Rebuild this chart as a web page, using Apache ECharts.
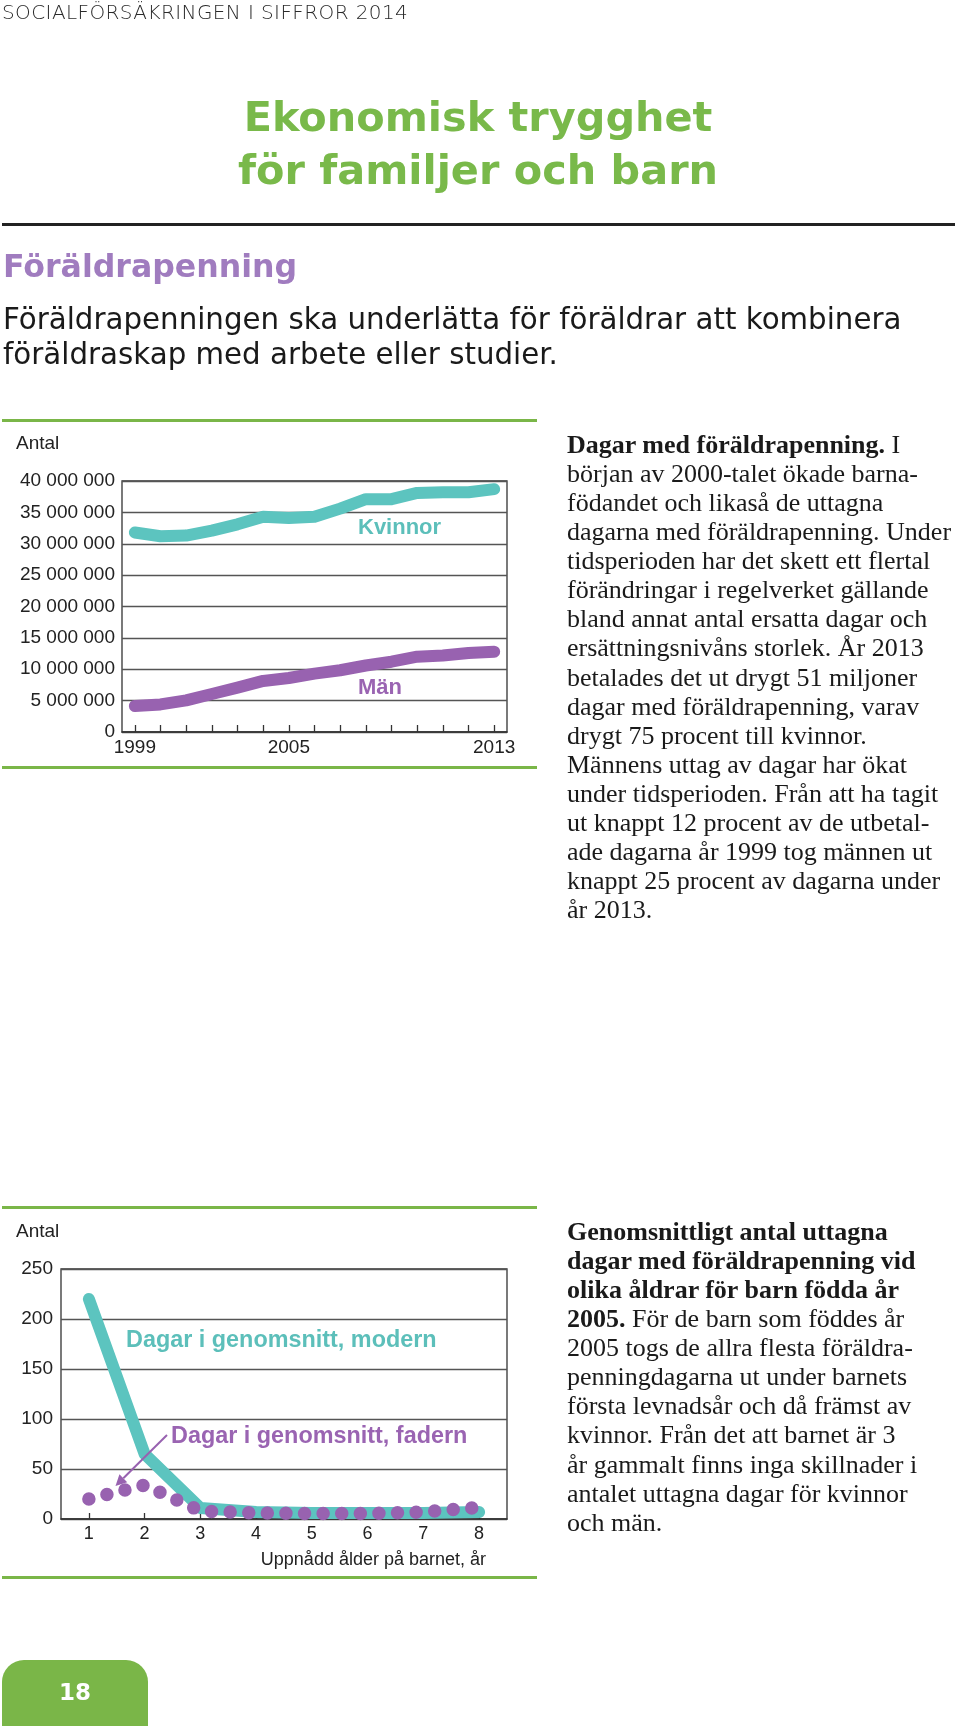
<!DOCTYPE html>
<html>
<head>
<meta charset="utf-8">
<script src="https://cdn.jsdelivr.net/npm/echarts@6/dist/echarts.min.js"></script>
<style>
  html, body { margin:0; padding:0; background:#fff; }
  #page { position:relative; width:960px; height:1726px; overflow:hidden; }
  #chart { position:absolute; left:0; top:0; width:960px; height:1726px; }
  .t { position:absolute; white-space:nowrap; }
  .rule { position:absolute; }
  .serif { font-family:"Liberation Serif","DejaVu Serif",serif; font-size:26px; line-height:29.06px; color:#1a1a1a; }
  .serif b { font-weight:bold; }
</style>
</head>
<body>
<div id="page">
  <div id="chart"></div>

  <div class="t" style="left:2px;top:0px;font-family:'DejaVu Sans';font-weight:300;font-size:20px;line-height:24px;letter-spacing:0.4px;color:#2a2a2a;">SOCIALFÖRSÄKRINGEN I SIFFROR 2014</div>

  <div class="t" style="left:0;width:956px;top:90.7px;text-align:center;font-family:'DejaVu Sans';font-weight:bold;font-size:41.4px;line-height:53.3px;color:#79b94a;">Ekonomisk trygghet<br>för familjer och barn</div>

  <div class="rule" style="left:2px;top:223px;width:953px;height:3px;background:#222;"></div>

  <div class="t" style="left:3px;top:248px;font-family:'DejaVu Sans';font-weight:bold;font-size:31.6px;line-height:36px;color:#a07cbf;">Föräldrapenning</div>

  <div class="t" style="left:3px;top:301.5px;font-family:'DejaVu Sans';font-weight:normal;font-size:29.3px;line-height:35px;color:#1a1a1a;">Föräldrapenningen ska underlätta för föräldrar att kombinera<br>föräldraskap med arbete eller studier.</div>

  <div class="rule" style="left:2px;top:419px;width:535px;height:3px;background:#7ab648;"></div>
  <div class="rule" style="left:2px;top:766px;width:535px;height:3px;background:#7ab648;"></div>
  <div class="rule" style="left:2px;top:1206px;width:535px;height:3px;background:#7ab648;"></div>
  <div class="rule" style="left:2px;top:1576px;width:535px;height:3px;background:#7ab648;"></div>

  <div class="t serif" style="left:567px;top:430px;"><b>Dagar med föräldrapenning.</b> I<br>början av 2000-talet ökade barna-<br>födandet och likaså de uttagna<br>dagarna med föräldrapenning. Under<br>tidsperioden har det skett ett flertal<br>förändringar i regelverket gällande<br>bland annat antal ersatta dagar och<br>ersättningsnivåns storlek. År 2013<br>betalades det ut drygt 51 miljoner<br>dagar med föräldrapenning, varav<br>drygt 75 procent till kvinnor.<br>Männens uttag av dagar har ökat<br>under tidsperioden. Från att ha tagit<br>ut knappt 12 procent av de utbetal-<br>ade dagarna år 1999 tog männen ut<br>knappt 25 procent av dagarna under<br>år 2013.</div>

  <div class="t serif" style="left:567px;top:1217px;"><b>Genomsnittligt antal uttagna<br>dagar med föräldrapenning vid<br>olika åldrar för barn födda år<br>2005.</b> För de barn som föddes år<br>2005 togs de allra flesta föräldra-<br>penningdagarna ut under barnets<br>första levnadsår och då främst av<br>kvinnor. Från det att barnet är 3<br>år gammalt finns inga skillnader i<br>antalet uttagna dagar för kvinnor<br>och män.</div>

  <div style="position:absolute;left:2px;top:1660px;width:146px;height:80px;background:#7ab648;border-radius:22px 22px 0 0;"></div>
  <div class="t" style="left:2px;width:146px;top:1677px;text-align:center;font-family:'DejaVu Sans';font-weight:bold;font-size:23px;line-height:30px;color:#fff;">18</div>
</div>

<script>
// ---------- Data ----------
const years = ['1999','2000','2001','2002','2003','2004','2005','2006','2007','2008','2009','2010','2011','2012','2013'];
const kvinnor = [31800000, 31200000, 31300000, 32100000, 33100000, 34300000, 34100000, 34300000, 35600000, 37100000, 37100000, 38100000, 38200000, 38200000, 38700000];
const man = [4150000, 4400000, 5050000, 6060000, 7070000, 8140000, 8600000, 9300000, 9840000, 10600000, 11200000, 12000000, 12200000, 12600000, 12800000];
const yearLabels = ['1999','2005','2013'];

const ages = ['1','2','3','4','5','6','7','8'];
const modern = [220, 65, 11, 7, 6, 6, 6, 7];
const fadern = [20, 34, 8, 6, 5.5, 5.5, 7, 11.5];

// ---------- Styles ----------
const TEAL = '#5cc4bf';
const PURPLE = '#9862b0';
const SANS = '"Liberation Sans", Arial, sans-serif';

function fmt(v) { return String(v).replace(/\B(?=(\d{3})+(?!\d))/g, ' '); }

// arrow annotation (chart 2)
const aS = [167, 1435], aE = [115.5, 1486];
const dx = aE[0] - aS[0], dy = aE[1] - aS[1], dl = Math.hypot(dx, dy);
const ux = dx / dl, uy = dy / dl, hl = 11, hw = 5.5;
const bx = aE[0] - ux * hl, by = aE[1] - uy * hl;
const head = [[aE[0], aE[1]], [bx + uy * hw, by - ux * hw], [bx - uy * hw, by + ux * hw]];

const chart = echarts.init(document.getElementById('chart'), null, { renderer: 'canvas' });

const gridBorder = { show: true, borderColor: '#333', borderWidth: 1.3, backgroundColor: 'transparent' };

chart.setOption({
  animation: false,
  grid: [
    Object.assign({ left: 122, top: 481, width: 385, height: 251 }, gridBorder),
    Object.assign({ left: 61, top: 1269, width: 446, height: 250 }, gridBorder)
  ],
  xAxis: [
    {
      type: 'category', gridIndex: 0, data: years, boundaryGap: true,
      axisLine: { show: true, lineStyle: { color: '#333', width: 1.5 } },
      axisTick: { show: true, interval: 0, alignWithLabel: true, inside: true, length: 7, lineStyle: { color: '#333', width: 1.3 } },
      axisLabel: { interval: function (i, v) { return yearLabels.indexOf(v) >= 0; }, margin: 6, color: '#222', fontSize: 19, fontFamily: SANS },
      splitLine: { show: false }
    },
    {
      type: 'category', gridIndex: 1, data: ages, boundaryGap: true,
      axisLine: { show: true, lineStyle: { color: '#333', width: 1.5 } },
      axisTick: { show: true, interval: 0, alignWithLabel: true, inside: true, length: 6, lineStyle: { color: '#333', width: 1.3 } },
      axisLabel: { interval: 0, margin: 6, color: '#222', fontSize: 18, fontFamily: SANS },
      splitLine: { show: false }
    }
  ],
  yAxis: [
    {
      type: 'value', gridIndex: 0, min: 0, max: 40000000, interval: 5000000,
      axisLine: { show: false }, axisTick: { show: false },
      axisLabel: { formatter: fmt, margin: 7, color: '#222', fontSize: 19, fontFamily: SANS, verticalAlign: 'middle', padding: [0, 0, 12, 0] },
      splitLine: { show: true, lineStyle: { color: '#555', width: 1.3 } }
    },
    {
      type: 'value', gridIndex: 1, min: 0, max: 250, interval: 50,
      axisLine: { show: false }, axisTick: { show: false },
      axisLabel: { margin: 8, color: '#222', fontSize: 19, fontFamily: SANS, verticalAlign: 'middle', padding: [0, 0, 10, 0] },
      splitLine: { show: true, lineStyle: { color: '#555', width: 1.3 } }
    }
  ],
  series: [
    {
      name: 'Kvinnor', type: 'line', xAxisIndex: 0, yAxisIndex: 0, data: kvinnor,
      symbol: 'none', lineStyle: { color: TEAL, width: 12, cap: 'round', join: 'round' }, z: 3
    },
    {
      name: 'Män', type: 'line', xAxisIndex: 0, yAxisIndex: 0, data: man,
      symbol: 'none', lineStyle: { color: PURPLE, width: 12, cap: 'round', join: 'round' }, z: 3
    },
    {
      name: 'Dagar i genomsnitt, modern', type: 'line', xAxisIndex: 1, yAxisIndex: 1, data: modern,
      symbol: 'none', lineStyle: { color: TEAL, width: 12, cap: 'round', join: 'round' }, z: 3
    },
    {
      name: 'Dagar i genomsnitt, fadern', type: 'line', xAxisIndex: 1, yAxisIndex: 1, data: fadern,
      symbol: 'none', lineStyle: { color: PURPLE, width: 13.5, type: [0, 18.6], cap: 'round', join: 'round' }, z: 4
    }
  ],
  graphic: [
    { type: 'text', style: { text: 'Antal', x: 16, y: 444, fill: '#222', font: '19px ' + SANS, align: 'left', verticalAlign: 'middle', textAlign: 'left', textVerticalAlign: 'middle' } },
    { type: 'text', style: { text: 'Kvinnor', x: 358, y: 528, fill: '#5cbfba', font: 'bold 22px ' + SANS, align: 'left', verticalAlign: 'middle', textAlign: 'left', textVerticalAlign: 'middle' } },
    { type: 'text', style: { text: 'Män', x: 358, y: 688, fill: '#9a64b2', font: 'bold 22px ' + SANS, align: 'left', verticalAlign: 'middle', textAlign: 'left', textVerticalAlign: 'middle' } },
    { type: 'text', style: { text: 'Antal', x: 16, y: 1232, fill: '#222', font: '19px ' + SANS, align: 'left', verticalAlign: 'middle', textAlign: 'left', textVerticalAlign: 'middle' } },
    { type: 'text', style: { text: 'Dagar i genomsnitt, modern', x: 126, y: 1341, fill: '#5cbfba', font: 'bold 23.4px ' + SANS, align: 'left', verticalAlign: 'middle', textAlign: 'left', textVerticalAlign: 'middle' } },
    { type: 'text', style: { text: 'Dagar i genomsnitt, fadern', x: 171, y: 1437, fill: '#9a64b2', font: 'bold 23.4px ' + SANS, align: 'left', verticalAlign: 'middle', textAlign: 'left', textVerticalAlign: 'middle' } },
    { type: 'text', style: { text: 'Uppnådd ålder på barnet, år', x: 486, y: 1560, fill: '#222', font: '18px ' + SANS, align: 'right', verticalAlign: 'middle', textAlign: 'right', textVerticalAlign: 'middle' } },
    { type: 'line', shape: { x1: aS[0], y1: aS[1], x2: bx, y2: by }, style: { stroke: PURPLE, lineWidth: 2 }, z: 10 },
    { type: 'polygon', shape: { points: head }, style: { fill: PURPLE }, z: 10 }
  ]
});
</script>
</body>
</html>
